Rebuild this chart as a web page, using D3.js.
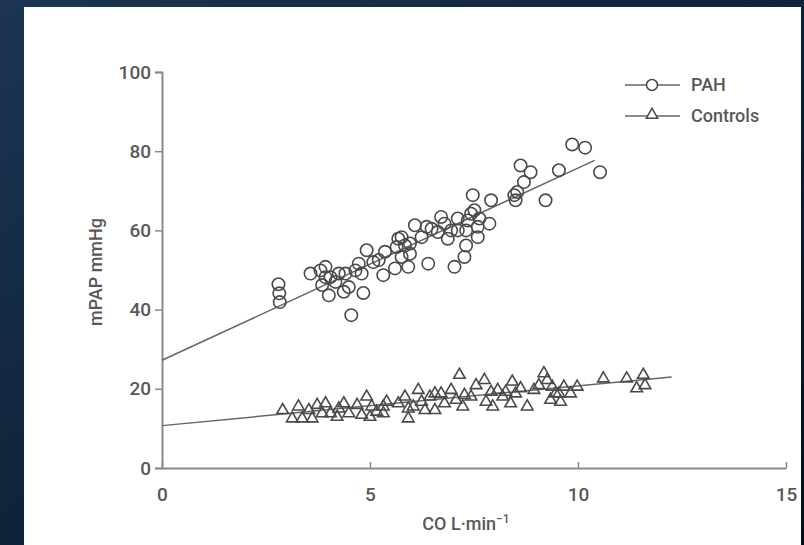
<!DOCTYPE html>
<html>
<head>
<meta charset="utf-8">
<script src="https://cdn.jsdelivr.net/npm/d3@7"></script>
<style>
  body { margin: 0; background: #0b1b2c; }
  svg { display: block; }
  text { font-family: Roboto, "Noto Sans", sans-serif; fill: #585858; font-weight: 500; }
</style>
</head>
<body>
<div id="chart"></div>
<script>
// PAH patients: cardiac output vs mean pulmonary artery pressure
var pahCO = [2.80, 2.82, 2.83, 3.57, 3.81, 3.93, 3.85, 4.01, 4.17, 4.41, 4.49, 4.37, 4.73, 4.80, 4.84,
  4.55, 4.92, 5.08, 5.32, 5.36, 5.60, 5.68, 5.84, 5.92, 5.96, 5.76, 6.08, 6.24, 6.36, 6.40, 6.63,
  6.71, 6.79, 6.87, 7.03, 7.11, 7.27, 7.31, 7.35, 7.47, 7.51, 7.59, 7.63, 7.87, 7.91, 8.50, 8.54,
  8.62, 8.70, 8.86, 9.22, 9.54, 9.86, 10.17, 10.53, 4.25, 4.05, 5.21, 5.76, 5.96, 6.95, 7.43, 7.31,
  7.59, 6.48, 3.93, 4.65, 5.64, 7.11, 8.47];
var pahMPAP = [46.4, 44.1, 41.9, 49.1, 49.9, 48.2, 46.2, 43.6, 47.0, 49.1, 45.7, 44.5, 51.6, 49.1, 44.2,
  38.6, 55.0, 52.0, 48.7, 54.6, 50.4, 57.9, 56.2, 50.8, 54.1, 53.3, 61.3, 58.3, 60.9, 51.6, 59.6,
  63.4, 61.7, 57.9, 50.8, 60.0, 53.3, 56.2, 62.5, 68.9, 65.1, 58.3, 63.0, 61.7, 67.6, 67.6, 69.7,
  76.4, 72.2, 74.7, 67.6, 75.2, 81.7, 80.9, 74.7, 49.1, 48.2, 52.5, 58.3, 56.7, 60.0, 64.2, 60.0,
  60.9, 60.4, 50.8, 49.9, 55.8, 63.0, 68.9];

// Controls
var ctrlCO = [2.90, 3.28, 3.13, 3.37, 3.53, 3.73, 3.85, 3.61, 4.05, 4.21, 4.37, 4.49, 4.69, 4.80, 4.92,
  5.04, 5.16, 5.32, 5.40, 5.68, 5.84, 5.92, 6.04, 6.16, 6.24, 6.44, 6.56, 6.71, 6.79, 6.95, 7.07,
  7.15, 7.23, 7.43, 7.55, 7.75, 7.79, 7.91, 8.07, 8.19, 8.38, 8.42, 8.50, 8.62, 8.78, 8.94, 9.06,
  9.18, 9.26, 9.38, 9.46, 9.58, 9.66, 9.82, 9.98, 10.61, 11.17, 11.41, 11.57, 11.61, 5.92, 6.32,
  5.32, 4.25, 7.95, 9.54, 7.27, 6.56, 5.00, 9.34, 3.93, 8.26];
var ctrlMPAP = [14.6, 15.5, 12.5, 12.5, 14.6, 15.9, 13.8, 12.5, 13.8, 12.9, 16.3, 13.8, 15.9, 13.4, 18.0,
  15.5, 14.2, 13.8, 16.7, 16.3, 18.0, 12.5, 15.5, 19.7, 16.7, 18.0, 14.6, 18.8, 16.3, 19.7, 17.2,
  23.5, 15.5, 18.0, 20.9, 22.2, 16.7, 19.2, 19.7, 18.0, 16.3, 21.8, 18.8, 20.1, 15.5, 19.7, 20.9,
  23.9, 22.2, 20.5, 18.8, 16.7, 20.5, 18.8, 20.5, 22.6, 22.6, 20.1, 23.5, 20.9, 15.0, 14.6,
  15.5, 15.0, 15.5, 18.8, 18.4, 18.8, 12.9, 17.2, 16.3, 19.2];

// regression lines (end points)
var pahFitCO = [0, 10.4], pahFitMPAP = [27.2, 77.7];
var ctrlFitCO = [0, 12.25], ctrlFitMPAP = [10.7, 23.0];

var xTicks = [0, 5, 10, 15];
var yTicks = [0, 20, 40, 60, 80, 100];
var seriesNames = ['PAH', 'Controls'];

var W = 804, H = 545;
var plot = { left: 162, right: 786, top: 72, bottom: 468 };
var markColor = '#4a4a4a', axisColor = '#8a8a8a';

var svg = d3.select('#chart').append('svg').attr('width', W).attr('height', H);

var defs = svg.append('defs');
var grad = defs.append('linearGradient').attr('id', 'bg')
  .attr('x1', 0).attr('y1', 0).attr('x2', 1).attr('y2', 1);
grad.append('stop').attr('offset', 0).attr('stop-color', '#1c3553');
grad.append('stop').attr('offset', 0.6).attr('stop-color', '#0c2034');
grad.append('stop').attr('offset', 1).attr('stop-color', '#040f1a');
svg.append('rect').attr('width', W).attr('height', H).attr('fill', 'url(#bg)');
svg.append('rect').attr('x', 24).attr('y', 7).attr('width', 777).attr('height', H - 7).attr('fill', '#fff');

var x = d3.scaleLinear().domain([0, 15]).range([plot.left, plot.right]);
var y = d3.scaleLinear().domain([0, 100]).range([plot.bottom, plot.top]);

// axes
var yAxis = svg.append('g').attr('transform', 'translate(' + plot.left + ',0)')
  .call(d3.axisLeft(y).tickValues(yTicks).tickSize(7).tickPadding(4));
var xAxis = svg.append('g').attr('transform', 'translate(0,' + plot.bottom + ')')
  .call(d3.axisBottom(x).tickValues(xTicks).tickSizeInner(-6).tickSizeOuter(0).tickPadding(16));
[xAxis, yAxis].forEach(function(g) {
  g.select('.domain').attr('stroke', axisColor).attr('stroke-width', 2);
  g.selectAll('.tick line').attr('stroke', axisColor).attr('stroke-width', 1.5);
  g.selectAll('.tick text').attr('fill', '#585858').style('font-size', '19px')
    .style('font-family', 'Roboto, sans-serif').style('font-weight', 500);
});
xAxis.selectAll('.tick text').attr('dy', '0.9em');

// axis titles
svg.append('text').attr('transform', 'translate(102,' + ((plot.top + plot.bottom) / 2 + 2) + ') rotate(-90)')
  .attr('text-anchor', 'middle').style('font-size', '18px').text('mPAP mmHg');
var xl = svg.append('text').attr('x', 466).attr('y', 530).attr('text-anchor', 'middle').style('font-size', '18px');
xl.append('tspan').text('CO L·min');
xl.append('tspan').attr('dy', -7).style('font-size', '12px').text('−1');

// regression lines
var line = d3.line().x(function(d) { return x(d[0]); }).y(function(d) { return y(d[1]); });
[[pahFitCO, pahFitMPAP], [ctrlFitCO, ctrlFitMPAP]].forEach(function(f) {
  svg.append('path').datum(d3.zip(f[0], f[1])).attr('d', line)
    .attr('fill', 'none').attr('stroke', '#666').attr('stroke-width', 1.5);
});

// controls (triangles)
var tri = d3.symbol(d3.symbolTriangle, 58);
svg.append('g').selectAll('path').data(d3.zip(ctrlCO, ctrlMPAP)).enter().append('path')
  .attr('d', tri)
  .attr('transform', function(d) { return 'translate(' + x(d[0]) + ',' + y(d[1]) + ')'; })
  .attr('fill', 'none').attr('stroke', markColor).attr('stroke-width', 1.6);

// PAH (circles)
svg.append('g').selectAll('circle').data(d3.zip(pahCO, pahMPAP)).enter().append('circle')
  .attr('cx', function(d) { return x(d[0]); })
  .attr('cy', function(d) { return y(d[1]); })
  .attr('r', 6.2)
  .attr('fill', 'none').attr('stroke', markColor).attr('stroke-width', 1.6);

// legend
var legend = svg.append('g');
seriesNames.forEach(function(name, i) {
  var ly = 85 + i * 31;
  var g = legend.append('g');
  g.append('line').attr('x1', 625).attr('x2', 680).attr('y1', ly).attr('y2', ly)
    .attr('stroke', '#666').attr('stroke-width', 1.5);
  if (i === 0) {
    g.append('circle').attr('cx', 652).attr('cy', ly).attr('r', 5.5)
      .attr('fill', '#fff').attr('stroke', markColor).attr('stroke-width', 1.5);
  } else {
    g.append('path').attr('d', tri).attr('transform', 'translate(652,' + (ly - 1) + ')')
      .attr('fill', '#fff').attr('stroke', markColor).attr('stroke-width', 1.5);
  }
  g.append('text').attr('x', 691).attr('y', ly).attr('dy', '0.35em').style('font-size', '18px').text(name);
});
</script>
</body>
</html>
